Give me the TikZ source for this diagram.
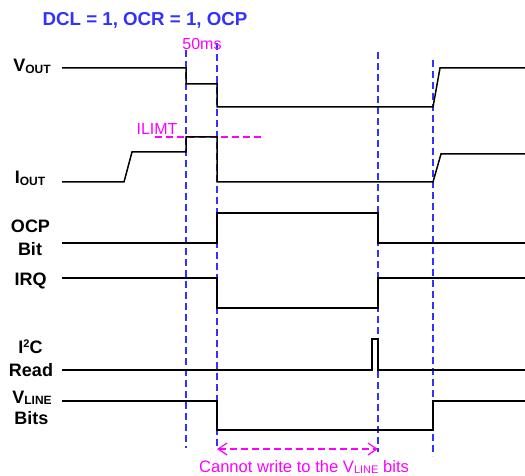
\documentclass[tikz,border=0pt]{standalone}
\usepackage{fontspec}
\setmainfont{Liberation Sans}
\usetikzlibrary{arrows.meta}
\definecolor{dblue}{RGB}{50,50,255}
\definecolor{mymagenta}{RGB}{255,0,255}
\newcommand\lsub[1]{\raisebox{-1.2pt}{\fontsize{12}{12}\selectfont #1}}
\newcommand\nsub[1]{\raisebox{-1.5pt}{\fontsize{11}{11}\selectfont #1}}
\begin{document}
\begin{tikzpicture}[x=1pt,y=-1pt,
  wave/.style={line width=1.5pt, draw=black, line join=miter},
  guide/.style={draw=dblue, line width=1.3pt, dash pattern=on 7pt off 4pt},
  lbl/.style={font=\fontsize{18}{18}\selectfont\bfseries, anchor=base, inner sep=0pt},
  note/.style={text=mymagenta, font=\fontsize{16}{16}\selectfont, anchor=base, inner sep=0pt},
  magdash/.style={draw=mymagenta, line width=1.2pt, dash pattern=on 7pt off 4pt}]
\useasboundingbox (0,0) rectangle (525,476);

% title
\node[lbl, text=dblue, font=\fontsize{18.7}{18.7}\selectfont\bfseries] (title) at (145,26) {DCL = 1, OCR = 1, OCP};

% signal labels
\node[lbl] (vout) at (32,72) {V\lsub{OUT}};
\node[lbl] (iout) at (30,184) {I\lsub{OUT}};
\node[lbl] (ocp) at (30.5,233) {OCP};
\node[lbl] (bit) at (30,255) {Bit};
\node[lbl] (irq) at (30.5,285) {IRQ};
\node[lbl] (i2c) at (30.5,353) {I\raisebox{6pt}{\fontsize{11}{11}\selectfont 2}C};
\node[lbl] (read) at (31,376) {Read};
\node[lbl] (vline) at (32,403) {V\lsub{LINE}};
\node[lbl] (bits) at (31.5,424) {Bits};

% guide lines
\coordinate (g1t) at (186,50);  \coordinate (g1b) at (186,448);
\coordinate (g2t) at (217,43);  \coordinate (g2b) at (217,450);
\coordinate (g3t) at (378,52);  \coordinate (g3b) at (378,452);
\coordinate (g4t) at (433,60);  \coordinate (g4b) at (433,456);
\draw[guide] (g1t) -- (g1b);
\draw[guide] (g2t) -- (g2b);
\draw[guide] (g3t) -- (g3b);
\draw[guide] (g4t) -- (g4b);

% magenta annotations
\node[note] (ms) at (202,50) {50ms};
\node[note] (ilimt) at (157,135) {ILIMT};
\coordinate (il1) at (155,137); \coordinate (il2) at (263,137);
\draw[magdash] (il1) -- (il2);
\coordinate (ar1) at (217,449); \coordinate (ar2) at (378,449);
\draw[magdash, {Straight Barb[length=9pt,width=12pt]}-{Straight Barb[length=9pt,width=12pt]}] (ar1) -- (ar2);
\node[note, font=\fontsize{16.6}{16.6}\selectfont] (cannot) at (304,472) {Cannot write to the V\nsub{LINE} bits};

% waveforms
\draw[wave] (62,68) -- (186,68) -- (186,84) -- (217,84) -- (217,107) -- (433,107) -- (440,68) -- (525,68);
\draw[wave] (62,182) -- (124,182) -- (132,152) -- (186,152) -- (186,137) -- (217,137) -- (217,182) -- (433,182) -- (441,154) -- (525,154);
\draw[wave] (62,243) -- (217,243) -- (217,213) -- (378,213) -- (378,243) -- (525,243);
\draw[wave] (62,278) -- (217,278) -- (217,308) -- (378,308) -- (378,278) -- (525,278);
\draw[wave] (62,370) -- (372,370) -- (372,339) -- (378,339) -- (378,370) -- (525,370);
\draw[wave] (62,401) -- (217,401) -- (217,430) -- (433,430) -- (433,401) -- (525,401);
\end{tikzpicture}
\end{document}
